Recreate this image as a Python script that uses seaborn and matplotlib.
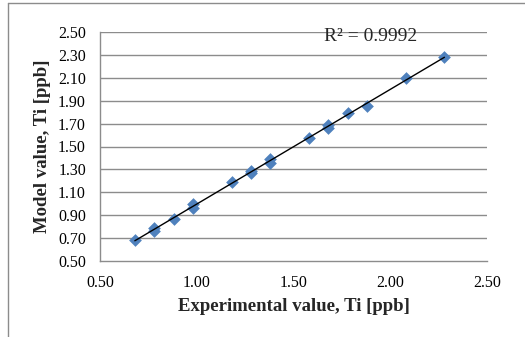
import matplotlib
matplotlib.use("Agg")
import matplotlib.pyplot as plt
import seaborn as sns
import numpy as np
import pandas as pd

sns.set_theme(style="white")
plt.rcParams['font.family'] = ['Liberation Serif', 'DejaVu Serif']

# values
experimental = [0.68, 0.78, 0.78, 0.88, 0.98, 0.98, 1.18, 1.28, 1.28,
                1.38, 1.38, 1.58, 1.68, 1.68, 1.78, 1.88, 2.08, 2.28]
model = [0.68, 0.79, 0.76, 0.87, 1.00, 0.96, 1.19, 1.29, 1.27,
         1.39, 1.36, 1.57, 1.69, 1.66, 1.79, 1.85, 2.10, 2.28]
r2_label = "R² = 0.9992"
x_ticks = [0.50, 1.00, 1.50, 2.00, 2.50]
y_ticks = [0.50, 0.70, 0.90, 1.10, 1.30, 1.50, 1.70, 1.90, 2.10, 2.30, 2.50]

df = pd.DataFrame({"x": experimental, "y": model})

fig = plt.figure(figsize=(5.25, 3.37), dpi=100)
# plot area: x 100..487 px, y 32..261 px
ax = fig.add_axes([100 / 525, (337 - 261) / 337, 387 / 525, 229 / 337])

grid_col = "#8c8c8c"
for t in y_ticks[1:]:
    ax.axhline(t, color=grid_col, lw=1.0, zorder=0)

sns.scatterplot(data=df, x="x", y="y", marker="D", s=42, color="#4f81bd",
                edgecolor="#4f81bd", linewidth=0, ax=ax, zorder=2)
sns.regplot(data=df, x="x", y="y", scatter=False, ci=None, color="black",
            line_kws={"lw": 1.0, "zorder": 3}, ax=ax)

ax.set_xlim(0.5, 2.5)
ax.set_ylim(0.5, 2.5)
ax.set_xticks(x_ticks)
ax.set_yticks(y_ticks)
ax.set_xticklabels([f"{v:.2f}" for v in x_ticks], fontsize=11.5)
ax.set_yticklabels([f"{v:.2f}" for v in y_ticks], fontsize=11.5)
ax.tick_params(axis="x", direction="out", length=3, width=1, color=grid_col,
               pad=7, labelcolor="black")
ax.tick_params(axis="y", direction="out", length=3.6, width=1, color=grid_col,
               pad=6.5, labelcolor="black")
for side in ["top", "right"]:
    ax.spines[side].set_visible(False)
for side in ["left", "bottom"]:
    ax.spines[side].set_color(grid_col)
    ax.spines[side].set_linewidth(1.0)

ax.set_xlabel("Experimental value, Ti [ppb]", fontsize=13.5, fontweight="bold", labelpad=5)
ax.set_ylabel("Model value, Ti [ppb]", fontsize=13.5, fontweight="bold", labelpad=5)

ax.text(1.9, 2.465, r2_label, fontsize=14, ha="center", va="center", zorder=4)

# chart frame (left and top edges visible)
fig.add_artist(plt.Line2D([8 / 525, 8 / 525], [0, 1 - 3 / 337], color="#8c8c8c", lw=1))
fig.add_artist(plt.Line2D([8 / 525, 1], [1 - 3 / 337, 1 - 3 / 337], color="#8c8c8c", lw=1))

fig.savefig("out.png", dpi=100)
